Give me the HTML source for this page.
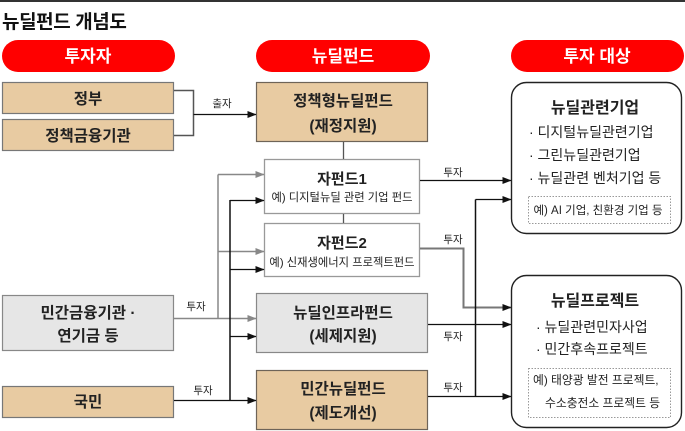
<!DOCTYPE html>
<html><head><meta charset="utf-8"><style>
html,body{margin:0;padding:0;background:#fff;}
svg{display:block;font-family:"Liberation Sans","Noto Sans CJK KR",sans-serif;}
</style></head><body>
<svg width="685" height="431" viewBox="0 0 685 431" xmlns="http://www.w3.org/2000/svg">
<defs>
<marker id="ab" markerWidth="9" markerHeight="8" refX="8.5" refY="4" orient="auto" markerUnits="userSpaceOnUse"><path d="M0,0.5 L9,4 L0,7.5 Z" fill="#111"/></marker>
<marker id="ag" markerWidth="9" markerHeight="8" refX="8.5" refY="4" orient="auto" markerUnits="userSpaceOnUse"><path d="M0,0.5 L9,4 L0,7.5 Z" fill="#888"/></marker>
</defs>
<rect x="0" y="0" width="685" height="2" fill="#333"/>
<text x="2" y="28" font-size="19" font-weight="700" letter-spacing="-0.4" fill="#111">뉴딜펀드 개념도</text>

<!-- pills -->
<rect x="2" y="40" width="173" height="32" rx="16" fill="#ff0000"/>
<text x="88" y="62" font-size="17" font-weight="700" fill="#fff" text-anchor="middle">투자자</text>
<rect x="256" y="40" width="174" height="32" rx="16" fill="#ff0000"/>
<text x="343" y="62" font-size="17" font-weight="700" fill="#fff" text-anchor="middle">뉴딜펀드</text>
<rect x="511" y="40" width="173" height="32" rx="16" fill="#ff0000"/>
<text x="597" y="62" font-size="17" font-weight="700" fill="#fff" text-anchor="middle">투자 대상</text>

<!-- left boxes -->
<rect x="2.5" y="82.5" width="171" height="31" fill="#e8cba2" stroke="#777" stroke-width="1.2"/>
<text x="88" y="104" font-size="15.5" font-weight="700" fill="#222" text-anchor="middle">정부</text>
<rect x="2.5" y="119.5" width="171" height="31" fill="#e8cba2" stroke="#777" stroke-width="1.2"/>
<text x="88" y="141" font-size="15.5" font-weight="700" fill="#222" text-anchor="middle">정책금융기관</text>
<rect x="2.5" y="295.5" width="171" height="55" fill="#e6e6e6" stroke="#888" stroke-width="1.2"/>
<text x="88" y="318" font-size="15.5" font-weight="700" fill="#222" text-anchor="middle">민간금융기관 ·</text>
<text x="88" y="341" font-size="15.5" font-weight="700" fill="#222" text-anchor="middle">연기금 등</text>
<rect x="2.5" y="386.5" width="171" height="31" fill="#e8cba2" stroke="#777" stroke-width="1.2"/>
<text x="88" y="407" font-size="15.5" font-weight="700" fill="#222" text-anchor="middle">국민</text>

<!-- middle boxes -->
<rect x="256.5" y="82.5" width="171" height="59" fill="#e8cba2" stroke="#6e6458" stroke-width="1.2"/>
<text x="343" y="106" font-size="15.5" font-weight="700" fill="#222" text-anchor="middle">정책형뉴딜펀드</text>
<text x="343" y="131" font-size="15.5" font-weight="700" fill="#222" text-anchor="middle">(재정지원)</text>

<rect x="264.5" y="159.5" width="155" height="54" fill="#fff" stroke="#999" stroke-width="1.3"/>
<text x="342" y="184" font-size="15" font-weight="700" fill="#222" text-anchor="middle">자펀드1</text>
<text x="342" y="201" font-size="11.3" fill="#222" text-anchor="middle">예) 디지털뉴딜 관련 기업 펀드</text>

<rect x="264.5" y="223.5" width="155" height="53" fill="#fff" stroke="#999" stroke-width="1.3"/>
<text x="342" y="248" font-size="15" font-weight="700" fill="#222" text-anchor="middle">자펀드2</text>
<text x="342" y="266" font-size="11.3" fill="#222" text-anchor="middle">예) 신재생에너지 프로젝트펀드</text>

<rect x="256.5" y="293.5" width="171" height="59" fill="#e6e6e6" stroke="#888" stroke-width="1.2"/>
<text x="343" y="318" font-size="15.5" font-weight="700" fill="#222" text-anchor="middle">뉴딜인프라펀드</text>
<text x="343" y="341" font-size="15.5" font-weight="700" fill="#222" text-anchor="middle">(세제지원)</text>

<rect x="256.5" y="370.5" width="171" height="59" fill="#e8cba2" stroke="#6e6458" stroke-width="1.2"/>
<text x="343" y="394" font-size="15.5" font-weight="700" fill="#222" text-anchor="middle">민간뉴딜펀드</text>
<text x="343" y="418" font-size="15.5" font-weight="700" fill="#222" text-anchor="middle">(제도개선)</text>

<!-- right boxes -->
<rect x="511.5" y="82.5" width="170" height="151" rx="15" fill="#fff" stroke="#222" stroke-width="1.4"/>
<text x="595" y="113" font-size="16" font-weight="700" fill="#222" text-anchor="middle">뉴딜관련기업</text>
<text x="529" y="137" font-size="14" fill="#222">· 디지털뉴딜관련기업</text>
<text x="529" y="160" font-size="14" fill="#222">· 그린뉴딜관련기업</text>
<text x="529" y="183" font-size="14" fill="#222">· 뉴딜관련 벤처기업 등</text>
<rect x="528.5" y="196.5" width="142" height="27" fill="none" stroke="#999" stroke-width="1" stroke-dasharray="1.5 1.5"/>
<text x="598" y="214" font-size="11.5" fill="#222" text-anchor="middle">예) AI 기업, 친환경 기업 등</text>

<rect x="511.5" y="275.5" width="170" height="152" rx="15" fill="#fff" stroke="#222" stroke-width="1.4"/>
<text x="595" y="306" font-size="16" font-weight="700" fill="#222" text-anchor="middle">뉴딜프로젝트</text>
<text x="536" y="332" font-size="14" fill="#222">· 뉴딜관련민자사업</text>
<text x="536" y="354" font-size="14" fill="#222">· 민간후속프로젝트</text>
<rect x="528.5" y="368.5" width="142" height="49" fill="none" stroke="#999" stroke-width="1" stroke-dasharray="1.5 1.5"/>
<text x="533" y="384" font-size="11.8" fill="#222">예) 태양광 발전 프로젝트,</text>
<text x="545" y="407" font-size="11.8" fill="#222">수소충전소 프로젝트 등</text>

<!-- left connectors -->
<polyline points="174,90.5 193.5,90.5 193.5,135.5 174,135.5" fill="none" stroke="#555" stroke-width="1.5"/>
<line x1="193.5" y1="114.5" x2="256" y2="114.5" stroke="#111" stroke-width="1.3" marker-end="url(#ab)"/>
<text x="222" y="107" font-size="10.5" fill="#222" text-anchor="middle">출자</text>

<line x1="343.5" y1="142" x2="343.5" y2="159" stroke="#555" stroke-width="1.3"/>
<line x1="343.5" y1="214" x2="343.5" y2="223" stroke="#555" stroke-width="1.3"/>

<!-- gray trunk -->
<line x1="218" y1="174.5" x2="218" y2="318.5" stroke="#888" stroke-width="1.5"/>
<line x1="218" y1="174.5" x2="264" y2="174.5" stroke="#888" stroke-width="1.5" marker-end="url(#ag)"/>
<line x1="218" y1="251.5" x2="264" y2="251.5" stroke="#888" stroke-width="1.5" marker-end="url(#ag)"/>
<line x1="174" y1="318.5" x2="256" y2="318.5" stroke="#888" stroke-width="1.5" marker-end="url(#ag)"/>
<text x="196" y="310" font-size="10.5" fill="#222" text-anchor="middle">투자</text>

<!-- black trunk -->
<line x1="230" y1="200" x2="230" y2="400.5" stroke="#111" stroke-width="1.5"/>
<line x1="230" y1="200.5" x2="264" y2="200.5" stroke="#111" stroke-width="1.3" marker-end="url(#ab)"/>
<line x1="230" y1="269.5" x2="264" y2="269.5" stroke="#111" stroke-width="1.3" marker-end="url(#ab)"/>
<line x1="230" y1="336.5" x2="256" y2="336.5" stroke="#111" stroke-width="1.3" marker-end="url(#ab)"/>
<line x1="174" y1="400.5" x2="256" y2="400.5" stroke="#111" stroke-width="1.3" marker-end="url(#ab)"/>
<text x="203" y="394" font-size="10.5" fill="#222" text-anchor="middle">투자</text>

<!-- right connectors -->
<line x1="420" y1="180.5" x2="511" y2="180.5" stroke="#111" stroke-width="1.3" marker-end="url(#ab)"/>
<text x="453" y="176" font-size="10.5" fill="#222" text-anchor="middle">투자</text>
<polyline points="420,248.5 463.5,248.5 463.5,307.5 511,307.5" fill="none" stroke="#777" stroke-width="2" marker-end="url(#ab)"/>
<text x="453" y="243" font-size="10.5" fill="#222" text-anchor="middle">투자</text>
<line x1="475.5" y1="199.5" x2="475.5" y2="396.5" stroke="#111" stroke-width="1.5"/>
<line x1="475.5" y1="199.5" x2="511" y2="199.5" stroke="#111" stroke-width="1.3" marker-end="url(#ab)"/>
<line x1="428" y1="324.5" x2="511" y2="324.5" stroke="#111" stroke-width="1.3" marker-end="url(#ab)"/>
<text x="453" y="340" font-size="10.5" fill="#222" text-anchor="middle">투자</text>
<line x1="428" y1="396.5" x2="511" y2="396.5" stroke="#111" stroke-width="1.3" marker-end="url(#ab)"/>
<text x="453" y="391" font-size="10.5" fill="#222" text-anchor="middle">투자</text>
</svg>
</body></html>
